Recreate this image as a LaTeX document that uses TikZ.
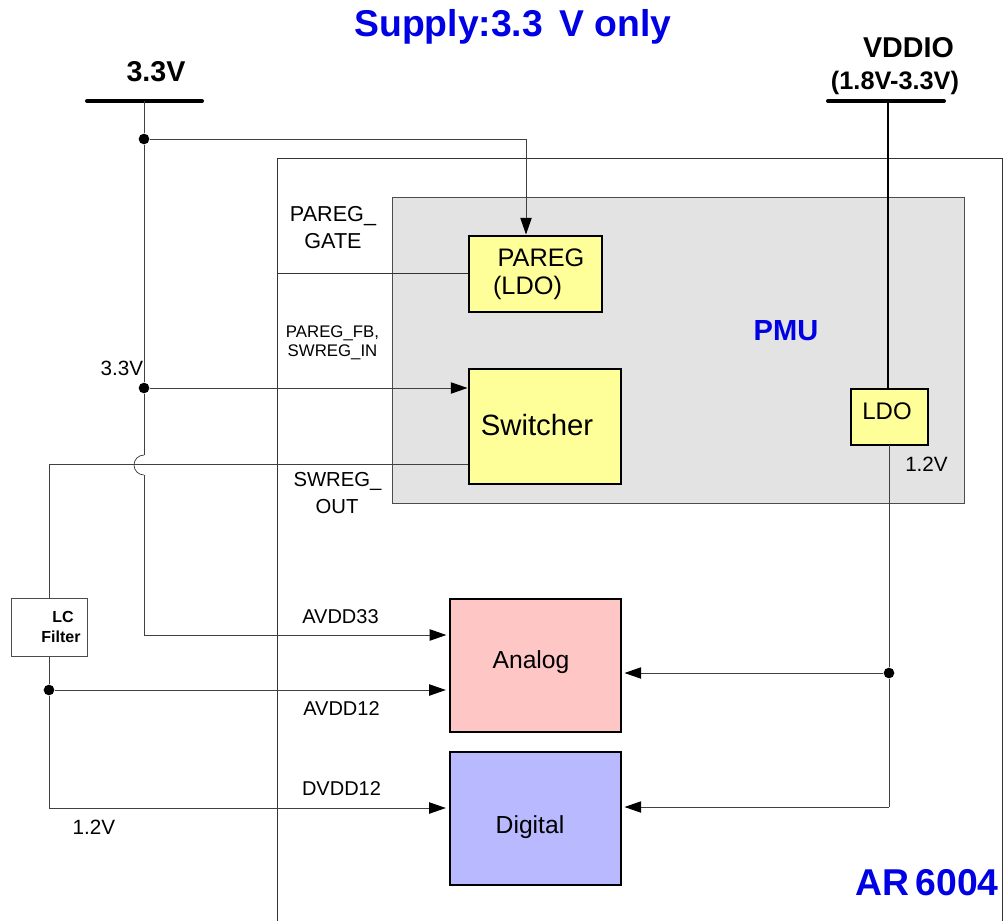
\documentclass[tikz,border=0pt]{standalone}
\usepackage{fontspec}
\setmainfont{Liberation Sans}
\usetikzlibrary{arrows.meta}
\definecolor{softyellow}{HTML}{FFFF99}
\definecolor{softred}{HTML}{FFC6C6}
\definecolor{softblue}{HTML}{B9B9FF}
\tikzset{
  x=0.75pt,y=-0.75pt,
  block/.style={draw=black,line width=1.5pt,inner sep=0pt,anchor=north west,minimum width=#1},
  wire/.style={draw=black!75,line width=0.75pt},
  arrowwire/.style={wire,shorten >=2pt,-{Triangle[length=12.5pt,width=8.5pt,fill=black,black]}},
  jdot/.style={circle,fill=black,inner sep=0pt,minimum size=8pt},
  rail/.style={line width=3pt,line cap=round,black},
  lbl/.style={inner sep=0pt,font=\fontsize{15}{17}\selectfont,black},
  smalllbl/.style={inner sep=0pt,font=\fontsize{12.6}{14}\selectfont,align=center,black},
  head/.style={inner sep=0pt,font=\fontsize{15}{18}\selectfont\bfseries,black},
}
\begin{document}
\begin{tikzpicture}
\useasboundingbox (0,0) rectangle (1005,921);
% chip outline
\coordinate (chipBL) at (277,921);
\coordinate (chipTL) at (277,158);
\coordinate (chipTR) at (1002,158);
\coordinate (chipBR) at (1002,921);
\draw[black!80,line width=0.75pt] (chipBL) -- (chipTL) -- (chipTR) -- (chipBR);
% PMU
\node[draw=black!70,fill=black!11,line width=0.75pt,inner sep=0pt,anchor=north west,minimum width=429pt,minimum height=229.5pt] (pmu) at (391.5,196.5) {};
% blocks
\node[block=100pt,minimum height=57.5pt,fill=softyellow] (pareg) at (467.5,234.5) {};
\node[block=114pt,minimum height=86.5pt,fill=softyellow] (sw) at (467.5,367.5) {};
\node[block=58pt,minimum height=42.5pt,fill=softyellow] (ldo) at (849.5,387.5) {};
\node[block=128.5pt,minimum height=100pt,fill=softred] (analog) at (448.5,597.5) {};
\node[block=128.5pt,minimum height=100pt,fill=softblue] (digital) at (448.5,750.5) {};
\node[draw=black!70,fill=white,line width=0.75pt,inner sep=0pt,anchor=north west,minimum width=57pt,minimum height=43.5pt] (lc) at (10.5,597.5) {};
\node[inner sep=0pt,font=\fontsize{12}{14}\selectfont\bfseries] (lc1) at (63,617) {LC};
\node[inner sep=0pt,font=\fontsize{12}{14}\selectfont\bfseries] (lc2) at (61,637) {Filter};
% rails
\coordinate (r33a) at (87,101); \coordinate (r33b) at (202,101);
\coordinate (rvda) at (828,101); \coordinate (rvdb) at (944,101);
\draw[rail] (r33a) -- (r33b);
\draw[rail] (rvda) -- (rvdb);
\coordinate (rvdm) at (888,101);
\draw[black,line width=1.5pt] (rvdm) -- (ldo.north -| rvdm);
% dots
\node[jdot] (d1) at (144,139) {};
\node[jdot] (d2) at (144,388) {};
\node[jdot] (d3) at (49,690) {};
\node[jdot] (d4) at (889,673) {};
% 3.3 V trunk
\coordinate (top33) at (144,101);
\coordinate (hopT) at (144,455);
\coordinate (hopB) at (144,475);
\coordinate (a33c) at (144,635);
\draw[wire] (top33) -- (d1) -- (d2) -- (hopT);
\draw[black!80,line width=0.5pt] (hopT) arc[start angle=-90,end angle=-270,radius=10];
\draw[wire] (hopB) -- (a33c);
\path (a33c) -- (449,635) coordinate (a33e);
\draw[arrowwire] (a33c) -- (a33e);
% PAREG feed
\coordinate (pc) at (526,139);
\draw[arrowwire,shorten >=0pt] (d1) -- (pc) -- (pareg.north -| pc);
% PAREG gate
\coordinate (gl) at (277,273);
\draw[black!80,line width=0.75pt] (gl) -- (pareg.west |- gl);
% switcher feed
\draw[arrowwire,shorten >=0pt] (d2) -- (sw.west |- d2);
% swreg out
\coordinate (so) at (49,464);
\draw[wire] (sw.west |- so) -- (so) -- (lc.north -| so);
% filter out
\draw[wire] (lc.south -| d3) -- (d3);
\draw[arrowwire] (d3) -- (analog.west |- d3);
\coordinate (dc) at (49,808);
\draw[arrowwire] (d3) -- (dc) -- (digital.west |- dc);
% ldo out
\coordinate (lo) at (889,445);
\coordinate (lb) at (889,807);
\draw[wire] (lo) -- (d4) -- (lb);
\draw[arrowwire] (d4) -- (analog.east |- d4);
\draw[arrowwire] (lb) -- (digital.east |- lb);
% titles
\node[inner sep=0pt,text=blue!90!black,font=\fontsize{28}{32}\selectfont\bfseries] (title) at (513,27) {Supply:3.3\, V only};
\node[head,font=\fontsize{21.5}{24}\selectfont\bfseries] (l33) at (156,72) {3.3V};
\node[head,font=\fontsize{21.5}{24}\selectfont\bfseries] (lvd) at (908.5,48) {VDDIO};
\node[head,font=\fontsize{19}{22}\selectfont\bfseries] (lrange) at (895,83) {(1.8V-3.3V)};
\node[inner sep=0pt,text=blue!90!black,font=\fontsize{21.8}{24}\selectfont\bfseries] (lpmu) at (786,331) {PMU};
\node[inner sep=0pt,text=blue!90!black,font=\fontsize{28}{32}\selectfont\bfseries] (lar) at (927,883) {AR\,6004};
% block labels
\node[lbl,font=\fontsize{19}{23}\selectfont] (t1) at (541,258) {PAREG};
\node[lbl,font=\fontsize{19}{23}\selectfont] (t2) at (527.5,288) {(LDO)};
\node[lbl,font=\fontsize{22}{26}\selectfont] (t3) at (537,425) {Switcher};
\node[lbl,font=\fontsize{18}{22}\selectfont] (t4) at (887,411) {LDO};
\node[lbl,font=\fontsize{18.5}{22}\selectfont] (t5) at (531,662) {Analog};
\node[lbl,font=\fontsize{18.5}{22}\selectfont] (t6) at (530,827) {Digital};
% signal labels
\node[lbl,font=\fontsize{16.2}{20}\selectfont] (s1) at (333,216) {PAREG\_};
\node[lbl,font=\fontsize{16.2}{20}\selectfont] (s2) at (333,241) {GATE};
\node[smalllbl] (s3) at (332.5,343) {PAREG\_FB,\\SWREG\_IN};
\node[lbl,font=\fontsize{15.2}{20}\selectfont] (s4) at (337.5,481) {SWREG\_};
\node[lbl,font=\fontsize{15.2}{20}\selectfont] (s5) at (337,507) {OUT};
\node[lbl,font=\fontsize{15.5}{20}\selectfont] (s6) at (122,368) {3.3V};
\node[lbl,font=\fontsize{15.5}{20}\selectfont] (s7) at (926.5,464) {1.2V};
\node[lbl,font=\fontsize{15}{20}\selectfont] (s8) at (340.5,617) {AVDD33};
\node[lbl,font=\fontsize{15}{20}\selectfont] (s9) at (341.5,709) {AVDD12};
\node[lbl,font=\fontsize{15}{20}\selectfont] (s10) at (341.5,789) {DVDD12};
\node[lbl,font=\fontsize{15.5}{20}\selectfont] (s11) at (94,827) {1.2V};
\end{tikzpicture}
\end{document}
